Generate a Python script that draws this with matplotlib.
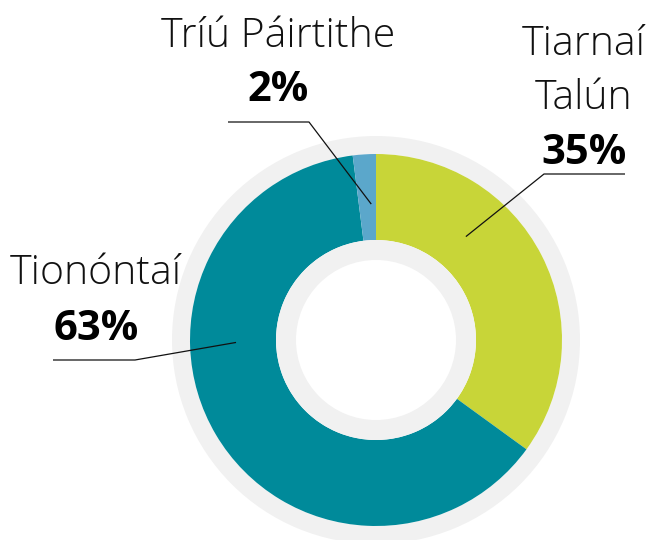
import matplotlib.pyplot as plt
import numpy as np

# share of land held, by group (drawn clockwise from 12 o'clock)
groups = ['Tiarnaí\nTalún', 'Tionóntaí', 'Tríú Páirtithe']
shares = [35, 63, 2]
colours = ['#c8d538', '#008a9a', '#5ba7cb']

W, H = 651, 540
cx, cy = 376, H - 340
grey = '#f1f1f1'
ink = '#111111'

# label layout in pixels from the top-left: (x centre, baseline of first line, pct baseline)
label_pos = [(584, 55, 164), (96, 284, 340), (278, 47, 101)]
# leader: angle/radius of anchor on ring, elbow point, end of horizontal
leader = [(49, 137, (544, 174), (625, 174)),
          (181, 140, (135, 360), (53, 360)),
          (92, 136, (309, 122), (228, 122))]

fig = plt.figure(figsize=(W / 100, H / 100), dpi=100)
ax = fig.add_axes([0, 0, 1, 1])

ax.pie([1], radius=204, center=(cx, cy), colors=[grey],
       wedgeprops=dict(width=18, linewidth=0))
ax.pie(shares, radius=186, center=(cx, cy), colors=colours,
       startangle=90, counterclock=False,
       wedgeprops=dict(width=86, linewidth=0))
ax.pie([1], radius=100, center=(cx, cy), colors=[grey],
       wedgeprops=dict(width=20, linewidth=0))

ax.set_xlim(0, W)
ax.set_ylim(0, H)
ax.set_aspect('equal')
ax.axis('off')

light = dict(family=['Open Sans', 'DejaVu Sans'], weight='light', size=29.5,
             color=ink, ha='center', va='baseline')
bold = dict(family=['Open Sans', 'DejaVu Sans'], weight='bold', size=30,
            color='black', ha='center', va='baseline')

for name, pct, (x, y0, yp), (ang, r, elbow, end) in zip(groups, shares, label_pos, leader):
    for i, line in enumerate(name.split('\n')):
        ax.text(x, H - (y0 + 54 * i), line, **light)
    ax.text(x, H - yp, f'{pct}%', **bold)
    ax_ = cx + r * np.cos(np.radians(ang))
    ay_ = cy + r * np.sin(np.radians(ang))
    ax.plot([ax_, elbow[0], end[0]], [ay_, H - elbow[1], H - end[1]],
            color=ink, lw=0.9, solid_capstyle='butt')

fig.savefig('out.png', dpi=100)
